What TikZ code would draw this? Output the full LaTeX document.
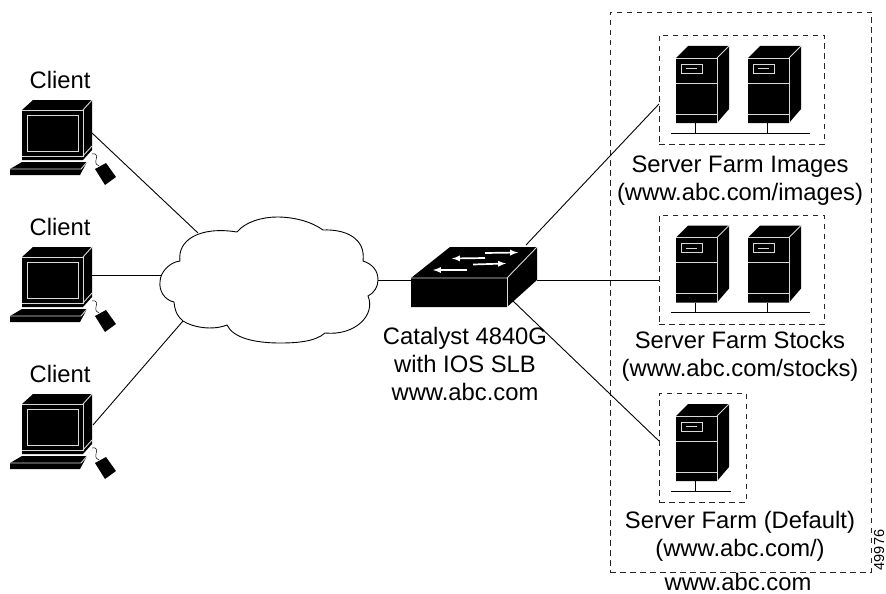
\documentclass[tikz,border=0pt]{standalone}
\usepackage{fontspec}
\setmainfont{Liberation Sans}
\usepackage{tikz}
\usetikzlibrary{arrows}

\begin{document}
\begin{tikzpicture}[x=1pt, y=-1pt]
		\tikzstyle{Label}	= [inner sep=0pt, align=center, font=\fontsize{23.8}{28}\selectfont]
		\tikzstyle{Farm}	= [draw, dashed, dash pattern=on 5.5pt off 4.5pt, line width=0.8pt, black!85, inner sep=0pt]
		\tikzstyle{NM}		= [black, line width=0.9pt]
		\tikzstyle{Body}	= [black, fill=black, line width=0.5pt]
		\tikzstyle{Edge}	= [white!85!black, line width=0.9pt]
		\tikzstyle{Flow}	= [-latex, white, line width=1.7pt]

		\useasboundingbox (0, 0) rectangle (886, 594);

		\coordinate (client1) at (92, 133);
		\coordinate (client2) at (92, 275);
		\coordinate (client3) at (93, 425);
		\coordinate (cloudNW) at (198, 233);
		\coordinate (cloudW) at (161, 275);
		\coordinate (cloudSW) at (183, 321);
		\coordinate (cloudE) at (378, 280);
		\coordinate (switchW) at (411, 280);
		\coordinate (switchNE) at (526, 245);
		\coordinate (switchE) at (537, 280);
		\coordinate (switchSE) at (513, 301);
		\coordinate (farm1in) at (659, 104);
		\coordinate (farm2in) at (659, 280);
		\coordinate (farm3in) at (659, 441);

		\node (farmAll) at (740.5, 292) [Farm, minimum width=261pt, minimum height=560pt] {};
		\node (farm1) at (741.5, 89.5) [Farm, minimum width=165pt, minimum height=109pt] {};
		\node (farm2) at (741.5, 269.5) [Farm, minimum width=165pt, minimum height=109pt] {};
		\node (farm3) at (702.5, 447.5) [Farm, minimum width=87pt, minimum height=109pt] {};

		\draw [-] (client1) to (cloudNW) [NM];
		\draw [-] (client2) to (cloudW) [NM];
		\draw [-] (client3) to (cloudSW) [NM];
		\draw [-] (cloudE) to (switchW) [NM];
		\draw [-] (switchNE) to (farm1in) [NM];
		\draw [-] (switchE) to (farm2in) [NM];
		\draw [-] (switchSE) to (farm3in) [NM];

		% cloud
		\draw [fill=white, line width=0.9pt] (237,232) .. controls (245,222) and (262,217) .. (277,217)
			.. controls (295,217) and (312,222) .. (323,230) .. controls (345,229) and (366,238) .. (363,261)
			.. controls (372,264) and (378,270) .. (378,280) .. controls (378,287) and (374,293) .. (368,296)
			.. controls (376,315) and (355,336) .. (325,333) .. controls (315,342) and (295,343) .. (280,343)
			.. controls (255,343) and (233,338) .. (227,325) .. controls (212,331) and (192,327) .. (183,321)
			.. controls (178,317) and (175,312) .. (174,302) .. controls (164,300) and (159,290) .. (160,282)
			.. controls (160,272) and (170,262) .. (180,261) .. controls (177,240) and (200,226) .. (237,232);

		% clients
		\foreach \dy in {0, 147, 294} {
			\begin{scope}[yshift=-\dy pt]
				\fill [Body] (22,110) -- (33,100) -- (92,100) -- (92,150) -- (83,160) -- (22,160) -- cycle;
				\draw [Edge] (22,110) -- (83,110) -- (83,156) -- (22,156);
				\draw [Edge] (83,110) -- (92,100);
				\draw [Edge] (83,156) -- (92,146);
				\draw [Edge] (27,115) rectangle (78,151);
				\fill [Body] (10,175) -- (10,169) -- (22,162) -- (87,162) -- (80,175) -- cycle;
				\draw [Edge] (10,169) -- (81,169) -- (87,162);
				\fill [Body] (95,169) -- (106,163) -- (116,177) -- (105,185) -- cycle;
				\draw [line width=0.5pt] (92,154) .. controls (97,153) and (97,156) .. (96,160) .. controls (95,164) and (97,165) .. (99,166);
			\end{scope}
		}

		% switch
		\fill [Body] (411,278) -- (450,247) -- (537,247) -- (537,280) -- (507,307) -- (411,307) -- cycle;
		\draw [Edge] (411,278) -- (507,278) -- (537,247);
		\draw [Edge] (507,278) -- (507,307);
		\draw [Flow] (485,253) -- (518,252.5);
		\draw [Flow] (485,258) -- (452,258.5);
		\draw [Flow] (473,264.5) -- (506,263.5);
		\draw [Flow] (467,270) -- (433,270);

		% servers
		\foreach \sx/\sy in {0/0, 72/0, 0/179.5, 72/179.5, 0/358} {
			\begin{scope}[xshift=\sx pt, yshift=-\sy pt]
				\draw [NM] (695,123) -- (695,133);
				\fill [Body] (676,58) -- (688,46) -- (729,46) -- (729,109) -- (717,123) -- (676,123) -- cycle;
				\draw [Edge] (676,58) -- (717,58) -- (717,123);
				\draw [Edge] (717,58) -- (729,46);
				\draw [Edge] (676,83) -- (717,83);
				\draw [Edge] (676,114) -- (717,114);
				\draw [Edge] (681,64) rectangle (702,73);
				\draw [Edge] (686,68.5) -- (697,68.5);
			\end{scope}
		}
		\coordinate (bar1a) at (671, 133);
		\coordinate (bar1b) at (810, 133);
		\coordinate (bar2a) at (671, 312.5);
		\coordinate (bar2b) at (810, 312.5);
		\coordinate (bar3a) at (671, 491);
		\coordinate (bar3b) at (731, 491);
		\draw [-] (bar1a) to (bar1b) [NM];
		\draw [-] (bar2a) to (bar2b) [NM];
		\draw [-] (bar3a) to (bar3b) [NM];

		\node (label1) at (60, 80) [Label] {Client};
		\node (label2) at (60, 227) [Label] {Client};
		\node (label3) at (60, 374) [Label] {Client};
		\node (labelSwitch) at (465, 364) [Label] {Catalyst 4840G\\with IOS SLB\\www.abc.com};
		\node (labelFarm1) at (740, 181) [Label] {Server Farm Images\\(www.abc.com/images)};
		\node (labelFarm2) at (740, 356) [Label] {Server Farm Stocks\\(www.abc.com/stocks)};
		\node (labelFarm3) at (740, 536) [Label] {Server Farm (Default)\\(www.abc.com/)};
		\node (labelAll) at (738, 581.5) [Label] {www.abc.com};
		\node (labelId) at (879, 550) [rotate=90, inner sep=0pt, font=\fontsize{14.5}{16}\selectfont] {49976};
	\end{tikzpicture}
\end{document}
